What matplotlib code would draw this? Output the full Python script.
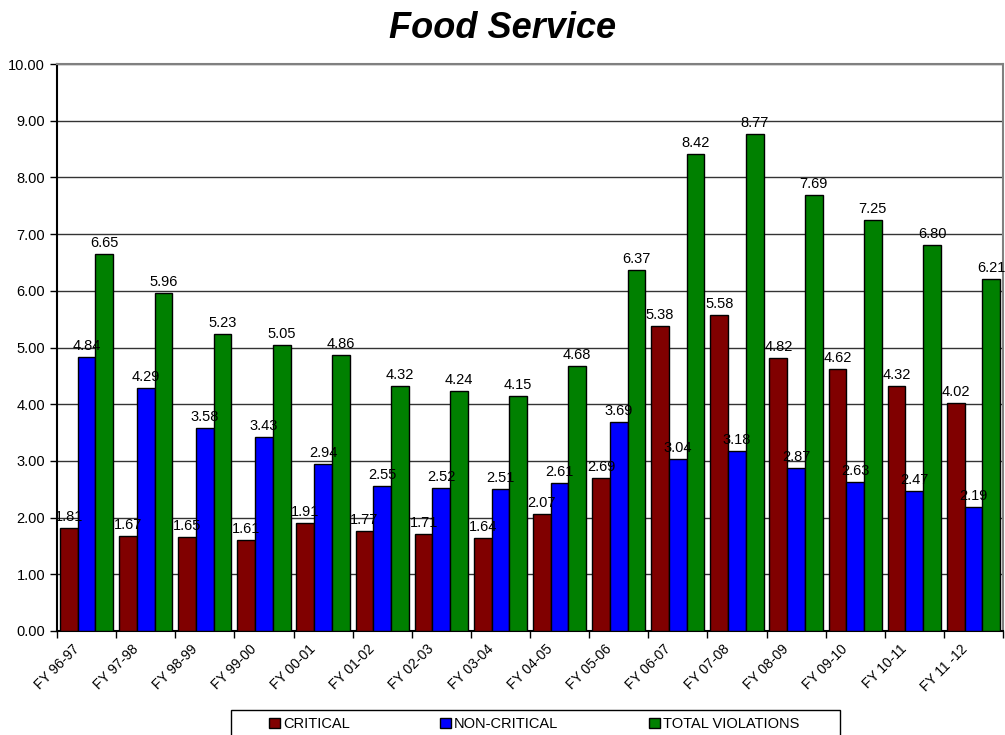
import matplotlib
matplotlib.use("Agg")
import matplotlib.pyplot as plt
import numpy as np
from matplotlib.patches import Rectangle

plt.rcParams['font.family'] = ['Liberation Sans', 'DejaVu Sans']

# data
years = ['FY 96-97', 'FY 97-98', 'FY 98-99', 'FY 99-00', 'FY 00-01', 'FY 01-02',
         'FY 02-03', 'FY 03-04', 'FY 04-05', 'FY 05-06', 'FY 06-07', 'FY 07-08',
         'FY 08-09', 'FY 09-10', 'FY 10-11', 'FY 11 -12']
critical = [1.81, 1.67, 1.65, 1.61, 1.91, 1.77, 1.71, 1.64, 2.07, 2.69,
            5.38, 5.58, 4.82, 4.62, 4.32, 4.02]
non_critical = [4.84, 4.29, 3.58, 3.43, 2.94, 2.55, 2.52, 2.51, 2.61, 3.69,
                3.04, 3.18, 2.87, 2.63, 2.47, 2.19]
total = [6.65, 5.96, 5.23, 5.05, 4.86, 4.32, 4.24, 4.15, 4.68, 6.37,
         8.42, 8.77, 7.69, 7.25, 6.80, 6.21]

series = [('CRITICAL', critical, '#800000'),
          ('NON-CRITICAL', non_critical, '#0000FF'),
          ('TOTAL VIOLATIONS', total, '#008000')]

fig = plt.figure(figsize=(10.05, 7.35), dpi=100)
ax = fig.add_axes([57/1005, 1 - 631/735, (1003 - 57)/1005, (631 - 64)/735])

x = np.arange(len(years))
w = 0.3
for i, (name, vals, col) in enumerate(series):
    bars = ax.bar(x + (i - 1) * w, vals, w, color=col, edgecolor='black',
                  linewidth=1, label=name, zorder=3)
    for b, v in zip(bars, vals):
        ax.annotate(f"{v:.2f}", (b.get_x() + b.get_width() / 2, v),
                    xytext=(0, 7), textcoords='offset pixels',
                    ha='center', va='baseline', fontsize=10.5, zorder=4)

ax.set_xlim(-0.5, len(years) - 0.5)
ax.set_ylim(0, 10)
ax.set_yticks(np.arange(0, 11, 1))
ax.set_yticklabels([f"{v:.2f}" for v in range(11)], fontsize=10.5)
ax.yaxis.grid(True, color='#333333', linewidth=1, zorder=0)
ax.set_xticks(np.arange(len(years) + 1) - 0.5)
ax.set_xticklabels(years + [''], rotation=45, ha='center', fontsize=10)
ax.tick_params(axis='both', direction='out', length=5, width=1, colors='black')
ax.tick_params(axis='x', pad=3)

for s in ['top', 'right']:
    ax.spines[s].set_color('#808080')
    ax.spines[s].set_linewidth(1.5)
for s in ['left', 'bottom']:
    ax.spines[s].set_color('black')
    ax.spines[s].set_linewidth(1.5)

fig.text(0.5, 1 - 28/735, 'Food Service', ha='center', va='center',
         fontsize=26, fontweight='bold', fontstyle='italic')

# legend box
fig.patches.append(Rectangle((231/1005, 1 - 740/735), (840 - 231)/1005, 30/735,
                             transform=fig.transFigure, facecolor='white',
                             edgecolor='black', linewidth=1, zorder=5))
leg = fig.legend(loc='center left', bbox_to_anchor=(262/1005, 1 - 724/735),
                 ncol=3, frameon=False, fontsize=10.5, handlelength=0.75,
                 handleheight=0.75, handletextpad=0.2, columnspacing=6.2,
                 borderpad=0)
leg.set_zorder(6)

fig.savefig('out.png', dpi=100)
